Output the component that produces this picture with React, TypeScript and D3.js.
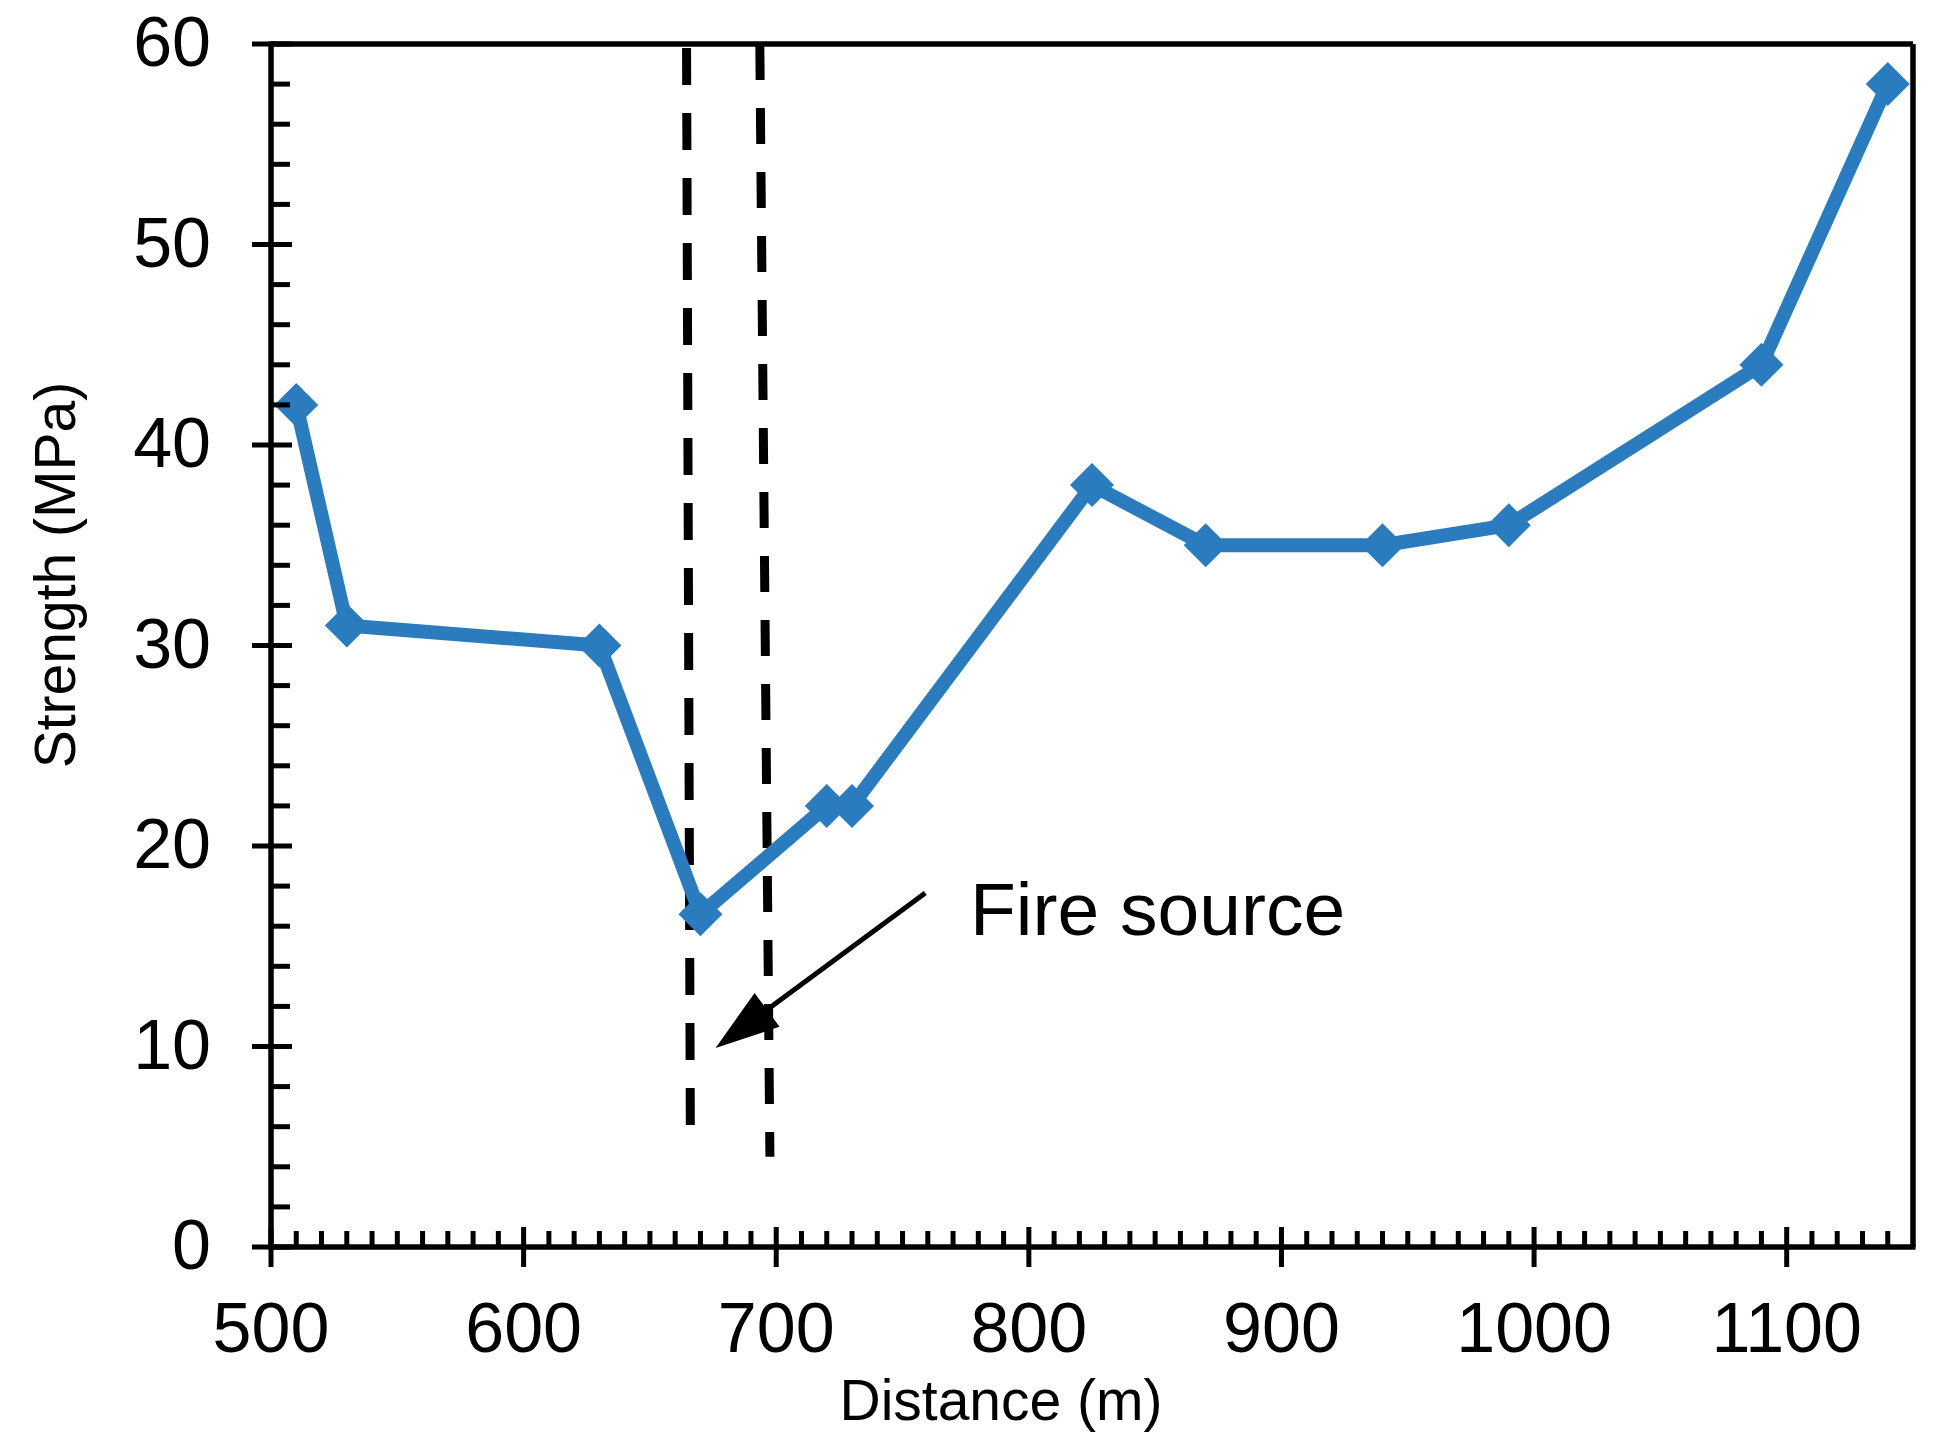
import React from 'react'
import * as d3 from 'd3'

// strength measured along the tunnel
const distance = [510, 530, 630, 670, 720, 730, 825, 870, 940, 990, 1090, 1140]
const strength = [42, 31, 30, 16.6, 22, 22, 38, 35, 35, 36, 44, 58]

const xTicks = [500, 600, 700, 800, 900, 1000, 1100]
const yTicks = [0, 10, 20, 30, 40, 50, 60]

// dashed markers around the fire zone: [xTop, xBottom, yBottom]
const fireLines = [
  [664.5, 666, 5.8],
  [693.5, 697.5, 4.5],
]
// arrow from label to fire zone: [x1, y1, x2, y2]
const arrow = [759, 17.66, 676, 9.93]
const fireLabel = { text: 'Fire source', x: 776.7, y: 15.56 }

const W = 1939
const H = 1455
const BLUE = '#2B7BBF'
const FONT = '"Liberation Sans", Arial, Helvetica, sans-serif'

export default function App() {
  const x = d3.scaleLinear().domain([500, 1150]).range([271, 1913])
  const y = d3.scaleLinear().domain([0, 60]).range([1247, 44])

  const pts = distance.map((d, i) => [x(d), y(strength[i])] as [number, number])
  const line = d3.line().curve(d3.curveLinear)(pts) || ''

  const xMinor = d3.range(510, 1150, 10).filter(v => v % 100 !== 0)
  const yMinor = d3.range(2, 60, 2).filter(v => v % 10 !== 0)

  // arrow geometry
  const [ax1, ay1, ax2, ay2] = [x(arrow[0]), y(arrow[1]), x(arrow[2]), y(arrow[3])]
  const ang = Math.atan2(ay2 - ay1, ax2 - ax1)
  const headLen = 64
  const headHalf = 21
  const bx = ax2 - headLen * Math.cos(ang)
  const by = ay2 - headLen * Math.sin(ang)
  const head = [
    [ax2, ay2],
    [bx + headHalf * Math.sin(ang), by - headHalf * Math.cos(ang)],
    [bx - headHalf * Math.sin(ang), by + headHalf * Math.cos(ang)],
  ]

  const r = 22
  const diamond = (cx: number, cy: number) =>
    `M${cx},${cy - r}L${cx + r},${cy}L${cx},${cy + r}L${cx - r},${cy}Z`

  return (
    <svg
      width={W}
      height={H}
      style={{ position: 'absolute', left: 0, top: 0, background: '#fff' }}
      fontFamily={FONT}
    >
      {/* fire zone dashed lines */}
      {fireLines.map((f, i) => (
        <line
          key={i}
          x1={x(f[0])}
          y1={y(60) + (i === 0 ? 4 : 0)}
          x2={x(f[1])}
          y2={y(f[2])}
          stroke="#000"
          strokeWidth={9}
          strokeDasharray={i === 0 ? '37 28' : '36 28'}
        />
      ))}

      {/* data line + markers */}
      <path d={line} fill="none" stroke={BLUE} strokeWidth={14} strokeLinejoin="round" />
      {pts.map((p, i) => (
        <path key={i} d={diamond(p[0], p[1])} fill={BLUE} />
      ))}

      {/* arrow */}
      <line x1={ax1} y1={ay1} x2={bx} y2={by} stroke="#000" strokeWidth={5} />
      <polygon points={head.map(p => p.join(',')).join(' ')} fill="#000" />
      <text x={x(fireLabel.x)} y={y(fireLabel.y)} fontSize={75} fill="#000">
        {fireLabel.text}
      </text>

      {/* frame */}
      <g stroke="#000" strokeWidth={5.5} fill="none">
        <line x1={x(500)} y1={y(60)} x2={x(1150)} y2={y(60)} />
        <line x1={x(1150)} y1={y(60)} x2={x(1150)} y2={y(0)} />
        <line x1={x(500)} y1={y(60) - 2.5} x2={x(500)} y2={y(0)} />
        <line x1={x(500)} y1={y(0)} x2={x(1150) + 2.5} y2={y(0)} />
      </g>

      {/* ticks */}
      <g stroke="#000" strokeWidth={5}>
        {xTicks.map(t => (
          <line key={t} x1={x(t)} x2={x(t)} y1={y(0) - 20} y2={y(0) + 20} />
        ))}
        {xMinor.map(t => (
          <line key={t} x1={x(t)} x2={x(t)} y1={y(0) - 16} y2={y(0)} />
        ))}
        {yTicks.map(t => (
          <line key={t} x1={x(500) - 19} x2={x(500) + 21} y1={y(t)} y2={y(t)} />
        ))}
        {yMinor.map(t => (
          <line key={t} x1={x(500)} x2={x(500) + 19} y1={y(t)} y2={y(t)} />
        ))}
      </g>

      {/* tick labels */}
      <g fontSize={70} fill="#000">
        {xTicks.map(t => (
          <text key={t} x={x(t)} y={1352} textAnchor="middle">
            {t}
          </text>
        ))}
        {yTicks.map(t => (
          <text key={t} x={211} y={y(t) - 3} dy="0.36em" textAnchor="end">
            {t}
          </text>
        ))}
      </g>

      {/* axis titles */}
      <text x={1001} y={1420} fontSize={57} textAnchor="middle" fill="#000">
        Distance (m)
      </text>
      <text
        transform="translate(75,575) rotate(-90)"
        fontSize={57}
        textAnchor="middle"
        fill="#000"
      >
        Strength (MPa)
      </text>
    </svg>
  )
}
